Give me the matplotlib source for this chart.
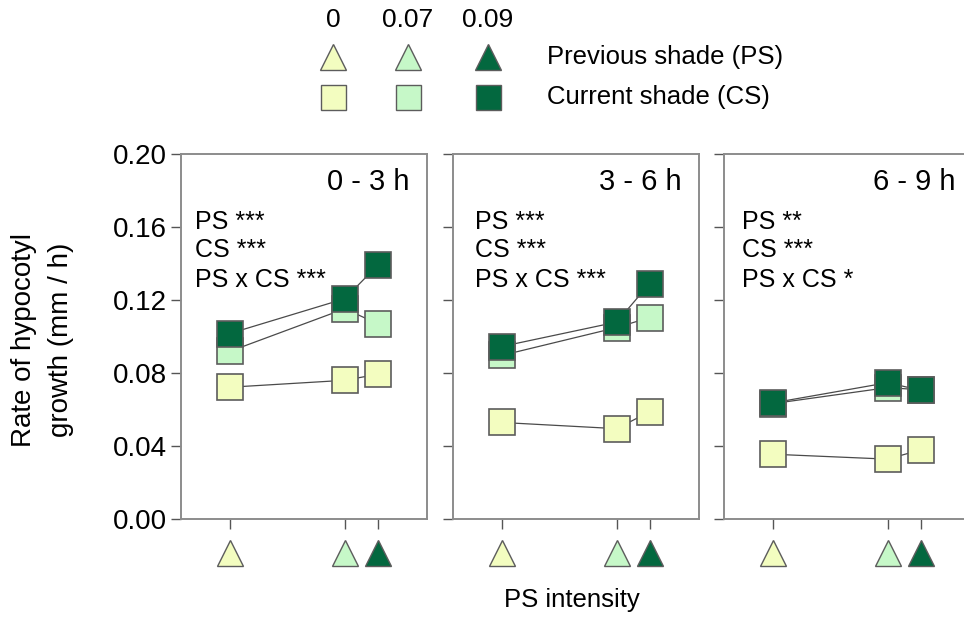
import matplotlib
matplotlib.use("Agg")
import matplotlib.pyplot as plt

plt.rcParams["font.family"] = ["Liberation Sans", "DejaVu Sans"]

# previous-shade intensity (x axis) and current-shade levels (series)
PS_LEVELS = [0, 0.07, 0.09]
LEVEL_LABELS = ["0", "0.07", "0.09"]
PERIODS = ["0 - 3 h", "3 - 6 h", "6 - 9 h"]
STATS = [
    ["PS ***", "CS ***", "PS x CS ***"],
    ["PS ***", "CS ***", "PS x CS ***"],
    ["PS **", "CS ***", "PS x CS *"],
]

# hypocotyl growth rate (mm / h); one row per period, one value per PS level
CS_0 = [
    [0.0722, 0.0760, 0.0793],
    [0.0529, 0.0495, 0.0588],
    [0.0355, 0.0328, 0.0379],
]
CS_007 = [
    [0.0918, 0.1152, 0.1070],
    [0.0896, 0.1049, 0.1104],
    [0.0632, 0.0720, 0.0708],
]
CS_009 = [
    [0.1016, 0.1207, 0.1390],
    [0.0945, 0.1079, 0.1290],
    [0.0636, 0.0747, 0.0705],
]
SERIES = [CS_0, CS_007, CS_009]

COLORS = ["#F3FDC0", "#C6F8C8", "#03683F"]
EDGE = "#5C5C5C"
SPINE = "#8C8C8C"

W, H = 964, 617
fig = plt.figure(figsize=(W / 100, H / 100), dpi=100)

# axes boxes in pixels: left, width (last panel runs off the right edge)
PANEL_LEFT = [181, 453, 724]
PANEL_W = 246
BOTTOM, TOP = 519, 154
STAT_X = [0.057, 0.089, 0.073]
TITLE_X = [0.93, 0.93, 0.94]

for p in range(3):
    ax = fig.add_axes([PANEL_LEFT[p] / W, 1 - BOTTOM / H,
                       PANEL_W / W, (BOTTOM - TOP) / H])
    for s in range(3):
        ax.plot(PS_LEVELS, SERIES[s][p], color="#4A4A4A", lw=0.9,
                marker="s", ms=18.5, mfc=COLORS[s], mec=EDGE, mew=1.2,
                zorder=2 + s)
    ax.set_xlim(-0.0295, 0.12)
    ax.set_ylim(0, 0.2)
    ax.set_yticks([0, 0.04, 0.08, 0.12, 0.16, 0.20])
    ax.set_xticks(PS_LEVELS)
    ax.set_xticklabels([])
    if p == 0:
        ax.set_yticklabels([f"{v:.2f}" for v in ax.get_yticks()], fontsize=20)
    else:
        ax.set_yticklabels([])
    ax.tick_params(direction="out", length=7, width=1, color="#555555",
                   pad=3)
    for sp in ax.spines.values():
        sp.set_color(SPINE)
        sp.set_linewidth(1.4)
    if p == 2:
        ax.spines["right"].set_visible(False)  # cut off in the original

    # PS intensity markers under the x axis
    tr = ax.get_xaxis_transform()
    for i, x in enumerate(PS_LEVELS):
        ax.plot(x, -0.092, transform=tr, clip_on=False, marker="^", ms=19,
                mfc=COLORS[i], mec=EDGE, mew=1.0, ls="none")

    ax.text(TITLE_X[p], 0.923, PERIODS[p], transform=ax.transAxes,
            ha="right", va="center", fontsize=21)
    for txt, yy in zip(STATS[p], [0.814, 0.737, 0.655]):
        ax.text(STAT_X[p], yy, txt, transform=ax.transAxes,
                ha="left", va="center", fontsize=18)

# legend at top
leg = fig.add_axes([0, 0, 1, 1], zorder=-1)
leg.set_xlim(0, W)
leg.set_ylim(H, 0)
leg.axis("off")
LEG_X = [333, 408, 488]
for i in range(3):
    leg.text(LEG_X[i], 20, LEVEL_LABELS[i], ha="center", va="center",
             fontsize=19)
    leg.plot(LEG_X[i], 57, marker="^", ms=19, mfc=COLORS[i], mec=EDGE,
             mew=1.0, ls="none")
    leg.plot(LEG_X[i], 97, marker="s", ms=18, mfc=COLORS[i], mec=EDGE,
             mew=1.0, ls="none")
leg.text(547, 57, "Previous shade (PS)", ha="left", va="center", fontsize=18.5)
leg.text(547, 97, "Current shade (CS)", ha="left", va="center", fontsize=18.5)

fig.text(572 / W, 1 - 600 / H, "PS intensity", ha="center", va="center",
         fontsize=18.5)
fig.text(43 / W, 1 - 340 / H, "Rate of hypocotyl\ngrowth (mm / h)",
         rotation=90, ha="center", va="center", multialignment="center",
         fontsize=20, linespacing=1.55)

fig.savefig("out.png", dpi=100)
